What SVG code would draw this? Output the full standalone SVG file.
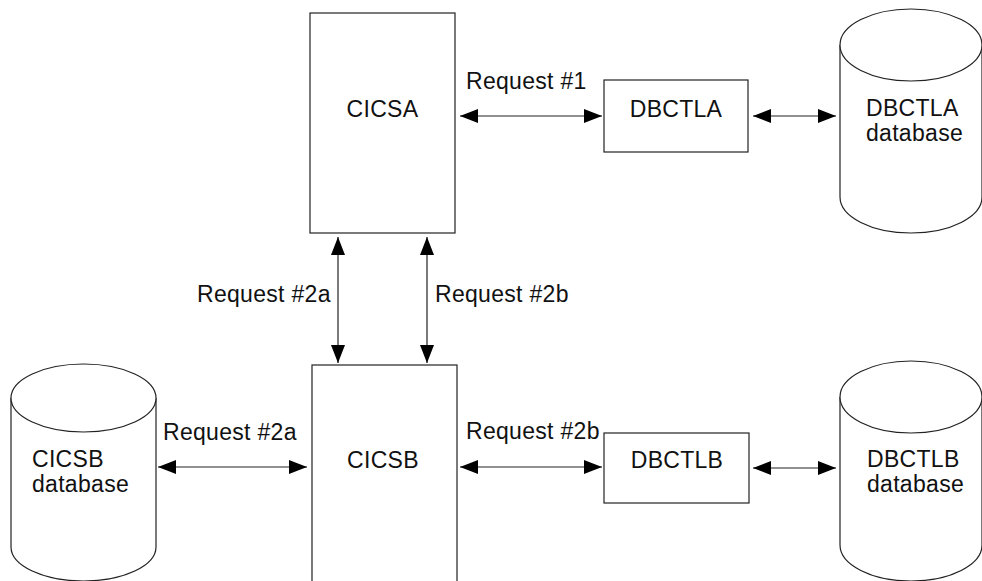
<svg xmlns="http://www.w3.org/2000/svg" width="982" height="581" viewBox="0 0 982 581">
<style>
.box{fill:#fff;stroke:#222;stroke-width:1.2}
.cyl{fill:#fff;stroke:#222;stroke-width:1.2}
.lbl{font-family:"Liberation Sans",Arial,sans-serif;font-size:23px;fill:#111;letter-spacing:0.3px}
.mid{text-anchor:middle}
.con{stroke:#222;stroke-width:1.2;fill:none;marker-start:url(#ah);marker-end:url(#ah)}
</style>
<defs>
<marker id="ah" markerUnits="userSpaceOnUse" markerWidth="19" markerHeight="15" refX="18" refY="7" orient="auto-start-reverse">
<path d="M0,0 L18,7 L0,14 z" fill="#000"/>
</marker>
</defs>
<rect width="982" height="581" fill="#fff"/>
<g id="connectors">
<line class="con" x1="460" y1="116" x2="602" y2="116"/>
<line class="con" x1="753" y1="116" x2="836" y2="116"/>
<line class="con" x1="338" y1="237" x2="338" y2="363"/>
<line class="con" x1="427" y1="237" x2="427" y2="363"/>
<line class="con" x1="158" y1="467" x2="307" y2="467"/>
<line class="con" x1="460" y1="467" x2="602" y2="467"/>
<line class="con" x1="753" y1="468" x2="836" y2="468"/>
<text class="lbl" x="466" y="89">Request #1</text>
<text class="lbl" x="197" y="302">Request #2a</text>
<text class="lbl" x="435" y="302">Request #2b</text>
<text class="lbl" x="163" y="440">Request #2a</text>
<text class="lbl" x="466" y="439">Request #2b</text>
</g>
<g id="cicsa">
<rect class="box" x="310" y="13" width="145" height="220"/>
<text class="lbl mid" x="382.5" y="117">CICSA</text>
</g>
<g id="dbctla">
<rect class="box" x="604" y="80" width="144" height="72"/>
<text class="lbl mid" x="676" y="117">DBCTLA</text>
</g>
<g id="dbctla-db">
<path class="cyl" d="M840,45 L840,197 A71,36 0 0 0 982,197 L982,45"/>
<ellipse class="cyl" cx="911" cy="45" rx="71" ry="36"/>
<text class="lbl" x="866" y="116">DBCTLA</text>
<text class="lbl" x="866" y="141">database</text>
</g>
<g id="cicsb">
<rect class="box" x="312" y="365" width="145" height="230"/>
<text class="lbl mid" x="383" y="468">CICSB</text>
</g>
<g id="dbctlb">
<rect class="box" x="604" y="433" width="145" height="70"/>
<text class="lbl mid" x="677" y="468">DBCTLB</text>
</g>
<g id="dbctlb-db">
<path class="cyl" d="M840,397 L840,545 A71,36 0 0 0 982,545 L982,397"/>
<ellipse class="cyl" cx="911" cy="397" rx="71" ry="36"/>
<text class="lbl" x="867" y="467">DBCTLB</text>
<text class="lbl" x="867" y="492">database</text>
</g>
<g id="cicsb-db">
<path class="cyl" d="M11,398 L11,547 A72.5,34 0 0 0 156,547 L156,398"/>
<ellipse class="cyl" cx="83.5" cy="398" rx="72.5" ry="34"/>
<text class="lbl" x="32" y="467">CICSB</text>
<text class="lbl" x="32" y="492">database</text>
</g>
</svg>
